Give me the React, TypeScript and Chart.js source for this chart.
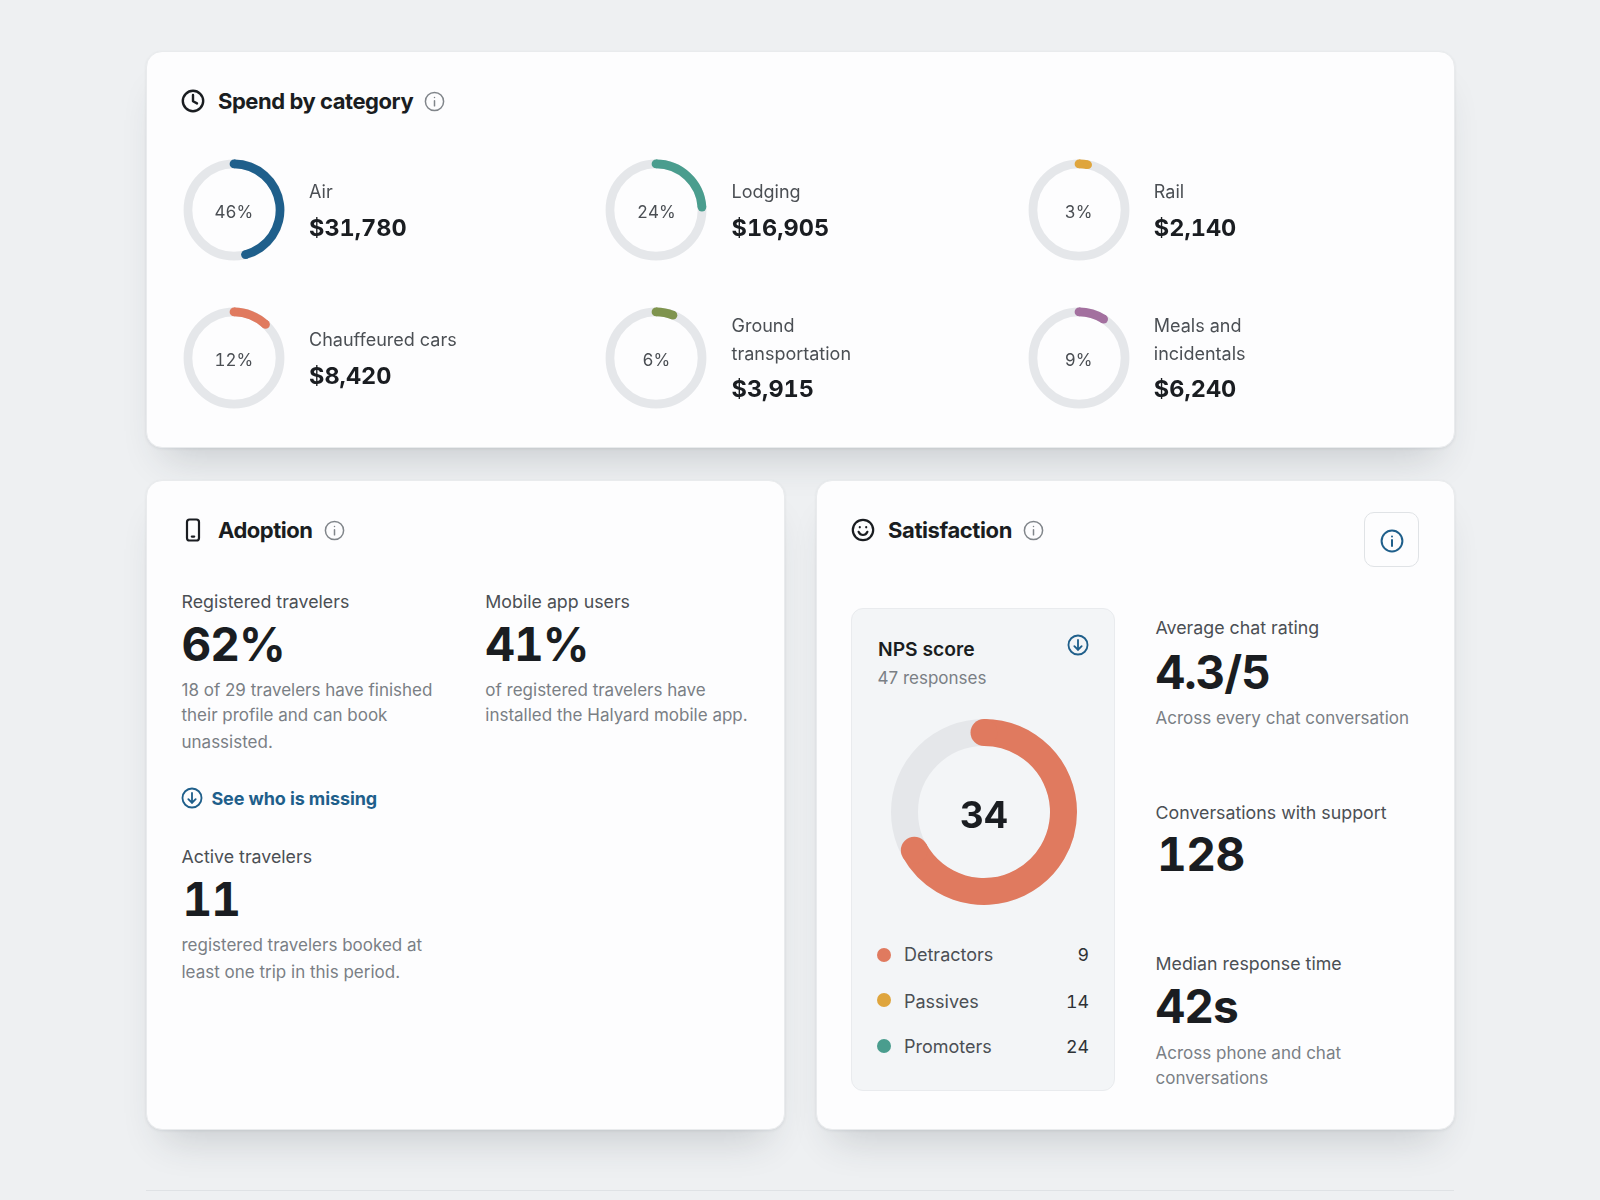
import React, { useEffect, useRef } from 'react';
import { Chart, registerables } from 'chart.js';

Chart.register(...registerables);

const spendCategories = ['Air', 'Lodging', 'Rail', 'Chauffeured cars', 'Ground transportation', 'Meals and incidentals'];
const spendAmounts = ['$31,780', '$16,905', '$2,140', '$8,420', '$3,915', '$6,240'];
const spendShares = [46, 24, 3, 12, 6, 9];
const spendColors = ['#1f5f8b', '#4a9d8e', '#dfa53d', '#e07a5f', '#7f944e', '#a3709f'];

const npsSegments = ['Detractors', 'Passives', 'Promoters'];
const npsCounts = [9, 14, 24];
const npsColors = ['#e07a5f', '#dfa53d', '#4a9d8e'];
const npsScore = 34;
// share of the ring that is filled, out of 100
const npsFill = [67, 33];

const INK = '#1a1d21';
const BODY = '#4b4f54';
const MUTED = '#7a7f85';
const BLUE = '#1f5f8b';
const TRACK = '#e5e7ea';
const FONT = 'Inter, sans-serif';

// grey full ring behind the value arc, round ends on the value arc
const ringPlugin = {
  id: 'ring',
  beforeDatasetsDraw(chart: any, _args: any, opts: any) {
    const arc = chart.getDatasetMeta(0).data[0];
    const { x, y, innerRadius, outerRadius } = arc.getProps(['x', 'y', 'innerRadius', 'outerRadius'], true);
    const { ctx } = chart;
    ctx.save();
    ctx.beginPath();
    ctx.arc(x, y, (innerRadius + outerRadius) / 2, 0, Math.PI * 2);
    ctx.lineWidth = outerRadius - innerRadius;
    ctx.strokeStyle = opts.track;
    ctx.stroke();
    ctx.restore();
  },
  afterDatasetsDraw(chart: any) {
    const arc = chart.getDatasetMeta(0).data[0];
    const { x, y, startAngle, endAngle, innerRadius, outerRadius } = arc.getProps(
      ['x', 'y', 'startAngle', 'endAngle', 'innerRadius', 'outerRadius'],
      true,
    );
    const { ctx } = chart;
    const mid = (innerRadius + outerRadius) / 2;
    ctx.save();
    ctx.fillStyle = arc.options.backgroundColor;
    for (const a of [startAngle, endAngle]) {
      ctx.beginPath();
      ctx.arc(x + Math.cos(a) * mid, y + Math.sin(a) * mid, (outerRadius - innerRadius) / 2, 0, Math.PI * 2);
      ctx.fill();
    }
    ctx.restore();
  },
};

const Ring: React.FC<{ cx: number; cy: number; radius: number; thickness: number; values: number[]; color: string }> = ({
  cx,
  cy,
  radius,
  thickness,
  values,
  color,
}) => {
  const ref = useRef<HTMLCanvasElement>(null);
  const size = Math.ceil(radius + 2) * 2;

  useEffect(() => {
    if (!ref.current) return;
    const chart = new Chart(ref.current, {
      type: 'doughnut',
      data: {
        labels: ['Value', 'Rest'],
        datasets: [{ data: values, backgroundColor: [color, 'rgba(0,0,0,0)'], borderWidth: 0 }],
      },
      options: {
        animation: false,
        responsive: false,
        events: [],
        cutout: `${((radius - thickness) / radius) * 100}%`,
        radius,
        plugins: { legend: { display: false }, tooltip: { enabled: false }, ring: { track: TRACK } } as any,
      },
      plugins: [ringPlugin],
    });
    return () => chart.destroy();
  }, []);

  return (
    <canvas
      ref={ref}
      width={size}
      height={size}
      style={{ position: 'absolute', left: cx - size / 2, top: cy - size / 2, width: size, height: size }}
    />
  );
};

const Txt: React.FC<{
  x: number;
  y: number;
  size: number;
  color?: string;
  weight?: number;
  spacing?: number;
  right?: boolean;
  center?: boolean;
  tabular?: boolean;
  children: React.ReactNode;
}> = ({ x, y, size, color = BODY, weight = 400, spacing = 0, right, center, tabular, children }) => (
  <div
    style={{
      position: 'absolute',
      left: x,
      top: y,
      transform: `translate(${right ? '-100%' : center ? '-50%' : '0'}, -50%)`,
      fontSize: size,
      color,
      fontWeight: weight,
      letterSpacing: spacing,
      fontVariantNumeric: tabular ? 'tabular-nums' : 'normal',
      whiteSpace: 'nowrap',
      lineHeight: 1.2,
    }}
  >
    {children}
  </div>
);

const Card: React.FC<{ x: number; y: number; w: number; h: number }> = ({ x, y, w, h }) => (
  <div
    style={{
      position: 'absolute',
      left: x,
      top: y,
      width: w,
      height: h,
      boxSizing: 'border-box',
      background: '#fdfdfe',
      border: '1px solid #e9ebed',
      borderRadius: 16,
      boxShadow: '0 26px 38px -18px rgba(40,50,60,0.2), 0 1px 3px rgba(40,50,60,0.08)',
    }}
  />
);

const Svg: React.FC<{ cx: number; cy: number; size: number; color: string; stroke?: number; children: React.ReactNode }> = ({
  cx,
  cy,
  size,
  color,
  stroke = 2,
  children,
}) => (
  <svg
    viewBox="0 0 24 24"
    fill="none"
    stroke={color}
    strokeWidth={stroke}
    strokeLinecap="round"
    strokeLinejoin="round"
    style={{ position: 'absolute', left: cx - size / 2, top: cy - size / 2, width: size, height: size }}
  >
    {children}
  </svg>
);

const InfoIcon: React.FC<{ cx: number; cy: number; size?: number; color?: string; stroke?: number }> = ({
  cx,
  cy,
  size = 21,
  color = '#80858a',
  stroke = 1.7,
}) => (
  <Svg cx={cx} cy={cy} size={size} color={color} stroke={stroke}>
    <circle cx="12" cy="12" r="10.4" />
    <path d="M12 11v6" />
    <path d="M12 7.4v.1" />
  </Svg>
);

const DownIcon: React.FC<{ cx: number; cy: number; size?: number }> = ({ cx, cy, size = 22 }) => (
  <Svg cx={cx} cy={cy} size={size} color={BLUE} stroke={2}>
    <circle cx="12" cy="12" r="10.4" />
    <path d="M12 6.5v10.5" />
    <path d="M8 13.2l4 4 4-4" />
  </Svg>
);

const spendColumns = [233.8, 656.3, 1078.6];
const spendRows = [210, 358];
const npsTextRows = [954.5, 1001.5, 1046.5];
const npsDotRows = [954.5, 999.5, 1045.5];

const BIG = { size: 46, color: INK, weight: 700, spacing: -1, tabular: true };
const LABEL = 17.8;
const NOTE = 17;

const App: React.FC = () => (
  <div
    style={{
      position: 'absolute',
      left: 0,
      top: 0,
      width: 1600,
      height: 1200,
      overflow: 'hidden',
      background: '#eef0f2',
      fontFamily: FONT,
    }}
  >
    <Card x={145.5} y={50.5} w={1309} h={397.5} />
    <Card x={145.5} y={479.5} w={639} h={650.5} />
    <Card x={815.5} y={479.5} w={639} h={650.5} />
    <div style={{ position: 'absolute', left: 146, top: 1190, width: 1308, height: 1, background: '#dfe2e5' }} />

    {/* Spend by category */}
    <Svg cx={193} cy={101} size={24} color={INK} stroke={2.4}>
      <circle cx="12" cy="12" r="10.2" />
      <path d="M12 6v6.2l4 2.2" />
    </Svg>
    <Txt x={218} y={101} size={22} color={INK} weight={700} spacing={-0.45}>
      Spend by category
    </Txt>
    <InfoIcon cx={434.5} cy={101} />

    {spendCategories.map((name, i) => {
      const cx = spendColumns[i % 3];
      const cy = spendRows[Math.floor(i / 3)];
      const wraps = name.length > 16;
      return (
        <React.Fragment key={name}>
          <Ring cx={cx} cy={cy} radius={50.4} thickness={8.7} values={[spendShares[i], 100 - spendShares[i]]} color={spendColors[i]} />
          <Txt x={cx} y={cy + 1.5} size={17} center tabular>
            {spendShares[i]}%
          </Txt>
          <div
            style={{
              position: 'absolute',
              left: spendColumns[i % 3] + 75.2,
              top: cy + (wraps ? -0.5 : 0),
              transform: 'translateY(-50%)',
              width: 160,
            }}
          >
            <div style={{ fontSize: 18, lineHeight: '28px', color: BODY }}>{name}</div>
            <div
              style={{
                fontSize: 23.5,
                lineHeight: '30px',
                marginTop: 6.5,
                fontWeight: 700,
                color: INK,
                fontVariantNumeric: 'tabular-nums',
              }}
            >
              {spendAmounts[i]}
            </div>
          </div>
        </React.Fragment>
      );
    })}

    {/* Adoption */}
    <Svg cx={193} cy={529.5} size={24} color={INK} stroke={2.2}>
      <rect x="6" y="1.5" width="12" height="21" rx="2.6" />
      <path d="M10.8 18.6h2.4" />
    </Svg>
    <Txt x={218} y={530} size={22} color={INK} weight={700} spacing={-0.5}>
      Adoption
    </Txt>
    <InfoIcon cx={334} cy={530} />

    <Txt x={181.5} y={601.5} size={LABEL}>
      Registered travelers
    </Txt>
    <Txt x={181.5} y={644.5} {...BIG}>
      62%
    </Txt>
    <Txt x={181.5} y={690} size={NOTE} color={MUTED}>
      18 of 29 travelers have finished
    </Txt>
    <Txt x={181.5} y={715} size={NOTE} color={MUTED}>
      their profile and can book
    </Txt>
    <Txt x={181.5} y={742} size={NOTE} color={MUTED}>
      unassisted.
    </Txt>

    <Txt x={485.3} y={601.5} size={LABEL}>
      Mobile app users
    </Txt>
    <Txt x={485.3} y={644.5} {...BIG}>
      41%
    </Txt>
    <Txt x={485.3} y={690} size={NOTE} color={MUTED}>
      of registered travelers have
    </Txt>
    <Txt x={485.3} y={715} size={NOTE} color={MUTED}>
      installed the Halyard mobile app.
    </Txt>

    <DownIcon cx={192} cy={798} />
    <Txt x={211.4} y={799} size={18} color={BLUE} weight={700} spacing={-0.1}>
      See who is missing
    </Txt>

    <Txt x={181.5} y={856.5} size={LABEL}>
      Active travelers
    </Txt>
    <Txt x={182.5} y={899.5} {...BIG}>
      11
    </Txt>
    <Txt x={181.5} y={945} size={NOTE} color={MUTED}>
      registered travelers booked at
    </Txt>
    <Txt x={181.5} y={972} size={NOTE} color={MUTED}>
      least one trip in this period.
    </Txt>

    {/* Satisfaction */}
    <Svg cx={863} cy={529.5} size={24} color={INK} stroke={2.2}>
      <circle cx="12" cy="12" r="10.2" />
      <path d="M7.6 13.8c1 2.2 2.6 3.2 4.4 3.2s3.4-1 4.4-3.2" />
      <path d="M8.8 9.2v.1" />
      <path d="M15.2 9.2v.1" />
    </Svg>
    <Txt x={888} y={530} size={22} color={INK} weight={700} spacing={-0.4}>
      Satisfaction
    </Txt>
    <InfoIcon cx={1033} cy={530} />

    <div
      style={{
        position: 'absolute',
        left: 1364,
        top: 512,
        width: 55,
        height: 55,
        boxSizing: 'border-box',
        border: '1px solid #e0e3e6',
        borderRadius: 10,
        background: '#fdfdfe',
      }}
    />
    <InfoIcon cx={1392} cy={540.5} size={24} color={BLUE} stroke={2} />

    <div
      style={{
        position: 'absolute',
        left: 851,
        top: 608,
        width: 264,
        height: 483,
        boxSizing: 'border-box',
        background: '#f3f5f7',
        border: '1px solid #e9ebee',
        borderRadius: 12,
      }}
    />
    <Txt x={878} y={649.5} size={19.3} color={INK} weight={600}>
      NPS score
    </Txt>
    <Txt x={877.5} y={678} size={17} color={MUTED}>
      47 responses
    </Txt>
    <DownIcon cx={1077.5} cy={645} />

    <Ring cx={984} cy={812} radius={93} thickness={27} values={npsFill} color={npsColors[0]} />
    <Txt x={984} y={815} size={37} color={INK} weight={700} center tabular>
      {npsScore}
    </Txt>

    {npsSegments.map((name, i) => (
      <React.Fragment key={name}>
        <div
          style={{
            position: 'absolute',
            left: 877,
            top: npsDotRows[i] - 7,
            width: 14,
            height: 14,
            borderRadius: '50%',
            background: npsColors[i],
          }}
        />
        <Txt x={904} y={npsTextRows[i]} size={18}>
          {name}
        </Txt>
        <Txt x={1089} y={npsTextRows[i]} size={17.8} right color="#2e3236" tabular>
          {npsCounts[i]}
        </Txt>
      </React.Fragment>
    ))}

    <Txt x={1155.5} y={628} size={LABEL}>
      Average chat rating
    </Txt>
    <Txt x={1155.5} y={672.5} {...BIG}>
      4.3/5
    </Txt>
    <Txt x={1155.5} y={718} size={NOTE} color={MUTED}>
      Across every chat conversation
    </Txt>

    <Txt x={1155.5} y={812.5} size={LABEL}>
      Conversations with support
    </Txt>
    <Txt x={1157} y={855} {...BIG} spacing={-0.5}>
      128
    </Txt>

    <Txt x={1155.5} y={963.5} size={LABEL}>
      Median response time
    </Txt>
    <Txt x={1155.5} y={1007} {...BIG}>
      42s
    </Txt>
    <Txt x={1155.5} y={1052.5} size={NOTE} color={MUTED}>
      Across phone and chat
    </Txt>
    <Txt x={1155.5} y={1077.5} size={NOTE} color={MUTED}>
      conversations
    </Txt>
  </div>
);

export default App;
